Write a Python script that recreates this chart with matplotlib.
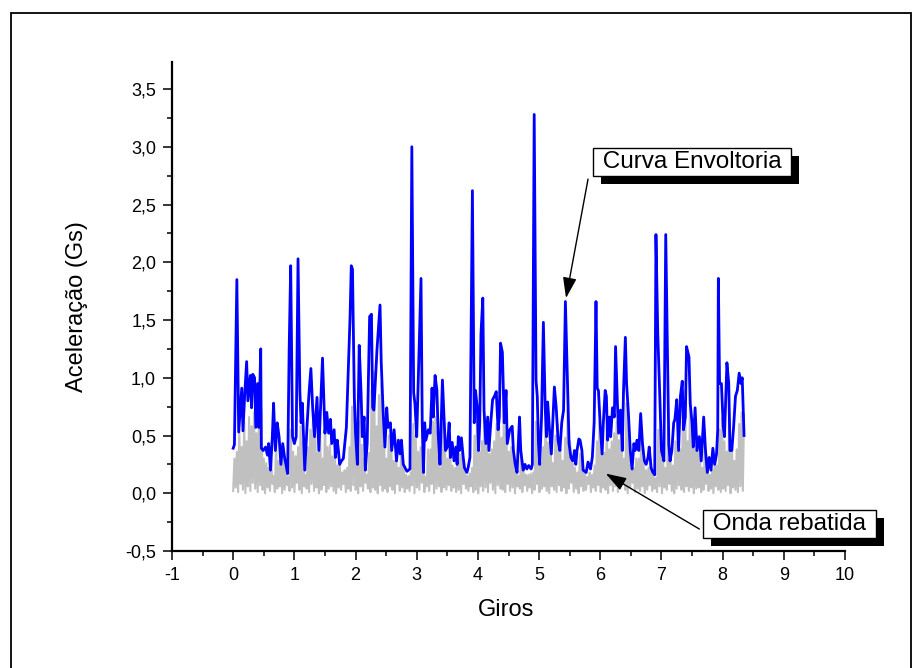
#!/usr/bin/env python3
# -*- coding: utf-8 -*-
"""
    Grafico de aceleracao por giros: onda rebatida (cinza)
    e curva envoltoria (azul), estilo Origin.
"""

import matplotlib
matplotlib.use("Agg")
import matplotlib.pyplot as plt
import matplotlib.patheffects as pe
from matplotlib.patches import Rectangle
from matplotlib.ticker import MultipleLocator, FuncFormatter
import numpy as np

# ---------------- dados ----------------
# Curva envoltoria: vertices (giros, aceleracao em Gs)
giros_env = [
    0.00, 0.02, 0.06, 0.09, 0.14, 0.16, 0.19, 0.22, 0.24, 0.28,
    0.30, 0.32, 0.35, 0.37, 0.40, 0.42, 0.45, 0.46, 0.49, 0.53,
    0.56, 0.58, 0.61, 0.64, 0.66, 0.69, 0.72, 0.75, 0.78, 0.81,
    0.84, 0.89, 0.915, 0.94, 0.97, 1.00, 1.03, 1.06, 1.09, 1.11,
    1.13, 1.17, 1.21, 1.24, 1.27, 1.30, 1.33, 1.37, 1.40, 1.46,
    1.50, 1.53, 1.56, 1.59, 1.61, 1.65, 1.67, 1.70, 1.72, 1.74,
    1.77, 1.80, 1.85, 1.91, 1.93, 1.95, 1.98, 2.00, 2.03, 2.06,
    2.09, 2.11, 2.14, 2.16, 2.19, 2.23, 2.26, 2.28, 2.30, 2.35,
    2.40, 2.42, 2.45, 2.48, 2.51, 2.53, 2.57, 2.59, 2.63, 2.67,
    2.70, 2.73, 2.75, 2.78, 2.84, 2.89, 2.92, 2.95, 2.97, 3.00,
    3.07, 3.09, 3.11, 3.13, 3.15, 3.19, 3.22, 3.25, 3.27, 3.30,
    3.33, 3.35, 3.38, 3.42, 3.44, 3.47, 3.50, 3.53, 3.55, 3.58,
    3.61, 3.64, 3.66, 3.68, 3.70, 3.73, 3.76, 3.78, 3.82, 3.84,
    3.87, 3.91, 3.94, 3.96, 3.99, 4.01, 4.03, 4.05, 4.08, 4.10,
    4.13, 4.16, 4.18, 4.21, 4.24, 4.27, 4.30, 4.33, 4.35, 4.37,
    4.40, 4.43, 4.46, 4.48, 4.52, 4.56, 4.58, 4.61, 4.64, 4.68,
    4.70, 4.74, 4.77, 4.80, 4.83, 4.87, 4.89, 4.92, 4.95, 4.97,
    4.99, 5.01, 5.04, 5.07, 5.10, 5.12, 5.14, 5.17, 5.20, 5.22,
    5.25, 5.28, 5.31, 5.34, 5.37, 5.40, 5.43, 5.45, 5.47, 5.49,
    5.52, 5.55, 5.58, 5.60, 5.62, 5.65, 5.67, 5.70, 5.72, 5.77,
    5.80, 5.84, 5.87, 5.90, 5.93, 5.95, 5.97, 6.00, 6.03, 6.05,
    6.08, 6.10, 6.12, 6.15, 6.17, 6.20, 6.23, 6.25, 6.28, 6.30,
    6.33, 6.36, 6.38, 6.41, 6.43, 6.46, 6.49, 6.52, 6.55, 6.57,
    6.60, 6.63, 6.66, 6.69, 6.72, 6.75, 6.78, 6.80, 6.83, 6.86,
    6.89, 6.91, 6.94, 6.97, 7.00, 7.04, 7.07, 7.10, 7.12, 7.14,
    7.17, 7.20, 7.22, 7.25, 7.28, 7.31, 7.34, 7.36, 7.39, 7.41,
    7.45, 7.47, 7.50, 7.52, 7.55, 7.58, 7.62, 7.65, 7.69, 7.72,
    7.75, 7.78, 7.81, 7.84, 7.87, 7.90, 7.92, 7.93, 7.95, 7.98,
    8.01, 8.03, 8.07, 8.10, 8.12, 8.15, 8.18, 8.21, 8.24, 8.27,
    8.30, 8.32, 8.35,
]
acel_env = [
    0.39, 0.42, 1.85, 0.53, 0.91, 0.54, 0.87, 1.14, 0.80, 1.02,
    0.74, 1.03, 1.00, 0.57, 0.95, 0.57, 1.25, 0.39, 0.37, 0.40,
    0.33, 0.43, 0.20, 0.49, 0.78, 0.37, 0.61, 0.49, 0.25, 0.43,
    0.31, 0.17, 1.25, 1.97, 0.49, 0.43, 0.49, 2.03, 0.88, 0.61,
    0.78, 0.20, 0.61, 0.87, 1.08, 0.73, 0.49, 0.83, 0.37, 1.17,
    0.52, 0.70, 0.52, 0.64, 0.43, 0.55, 0.31, 0.46, 0.37, 0.25,
    0.28, 0.30, 0.57, 1.52, 1.97, 1.94, 0.83, 0.52, 0.25, 1.28,
    0.87, 0.49, 0.66, 0.20, 0.43, 1.53, 1.55, 0.74, 0.72, 1.24,
    1.63, 1.13, 0.72, 0.40, 0.74, 0.57, 0.61, 0.37, 0.55, 0.28,
    0.46, 0.34, 0.46, 0.25, 0.19, 0.21, 3.00, 0.87, 0.78, 0.49,
    1.86, 0.61, 0.18, 0.61, 0.46, 0.55, 0.52, 0.91, 0.66, 1.02,
    0.89, 0.52, 0.25, 0.98, 0.74, 0.37, 0.40, 0.61, 0.31, 0.44,
    0.28, 0.40, 0.25, 0.49, 0.37, 0.48, 0.31, 0.22, 0.18, 0.22,
    0.31, 2.62, 0.61, 0.89, 0.74, 0.37, 0.61, 1.38, 1.69, 0.72,
    0.43, 0.66, 0.37, 0.61, 0.81, 0.84, 0.88, 0.55, 0.66, 1.30,
    1.22, 0.61, 0.89, 0.43, 0.55, 0.58, 0.37, 0.25, 0.18, 0.66,
    0.37, 0.20, 0.25, 0.21, 0.24, 0.21, 0.25, 3.28, 0.98, 0.84,
    0.43, 0.25, 0.66, 1.48, 0.74, 0.49, 0.79, 0.55, 0.34, 0.58,
    0.92, 0.74, 0.46, 0.37, 0.61, 0.72, 1.66, 1.24, 0.81, 0.43,
    0.31, 0.28, 0.37, 0.25, 0.37, 0.47, 0.46, 0.37, 0.20, 0.18,
    0.27, 0.21, 0.31, 0.61, 1.66, 0.91, 0.89, 0.58, 0.34, 0.61,
    0.89, 0.84, 0.46, 0.66, 0.49, 0.74, 0.66, 1.27, 0.78, 0.52,
    0.72, 0.37, 0.89, 1.35, 0.95, 0.69, 0.37, 0.21, 0.43, 0.37,
    0.46, 0.37, 0.69, 0.43, 0.28, 0.25, 0.31, 0.40, 0.22, 0.18,
    0.16, 2.24, 1.38, 0.89, 0.37, 0.28, 2.24, 1.13, 0.43, 0.28,
    0.37, 0.61, 0.64, 0.81, 0.37, 0.84, 0.97, 0.55, 0.66, 1.27,
    1.18, 0.78, 0.61, 0.40, 0.74, 0.37, 0.49, 0.28, 0.66, 0.37,
    0.18, 0.31, 0.20, 0.39, 0.25, 0.34, 0.55, 1.86, 0.95, 0.95,
    0.58, 0.49, 1.13, 0.95, 0.37, 0.37, 0.58, 0.84, 0.89, 1.04,
    0.95, 1.00, 0.50,
]

# Onda rebatida: picos e vales (amostras alternadas)
picos_onda = [
    0.30, 0.36, 0.55, 0.40, 0.62, 0.45, 0.66, 0.58, 0.70, 0.52,
    0.64, 0.72, 0.30, 0.26, 0.22, 0.30, 0.15, 0.45, 0.28, 0.38,
    0.30, 0.22, 0.14, 0.55, 0.36, 0.32, 0.40, 0.58, 0.45, 0.16,
    0.40, 0.55, 0.62, 0.50, 0.35, 0.52, 0.30, 0.66, 0.40, 0.42,
    0.32, 0.36, 0.24, 0.26, 0.18, 0.20, 0.22, 0.40, 0.75, 0.90,
    0.40, 0.62, 0.42, 0.30, 0.16, 0.35, 0.90, 1.05, 0.58, 0.85,
    0.95, 0.60, 0.30, 0.50, 0.42, 0.28, 0.36, 0.22, 0.32, 0.26,
    0.16, 0.15, 0.18, 0.60, 0.50, 0.36, 0.40, 0.45, 0.14, 0.38,
    0.38, 0.62, 0.66, 0.55, 0.22, 0.60, 0.36, 0.30, 0.42, 0.24,
    0.22, 0.30, 0.34, 0.35, 0.22, 0.15, 0.17, 0.22, 0.50, 0.62,
    0.36, 0.45, 0.70, 0.52, 0.34, 0.38, 0.45, 0.60, 0.62, 0.48,
    0.82, 0.52, 0.36, 0.40, 0.36, 0.22, 0.15, 0.40, 0.22, 0.16,
    0.16, 0.17, 0.18, 0.62, 0.55, 0.26, 0.40, 0.62, 0.44, 0.48,
    0.26, 0.50, 0.60, 0.40, 0.28, 0.48, 0.72, 0.45, 0.26, 0.22,
    0.18, 0.34, 0.33, 0.20, 0.14, 0.18, 0.16, 0.24, 0.45, 0.62,
    0.42, 0.35, 0.58, 0.38, 0.45, 0.52, 0.62, 0.46, 0.44, 0.30,
    0.78, 0.58, 0.30, 0.22, 0.30, 0.30, 0.48, 0.26, 0.20, 0.22,
    0.30, 0.16, 0.13, 0.55, 0.60, 0.28, 0.22, 0.58, 0.32, 0.24,
    0.45, 0.52, 0.38, 0.62, 0.68, 0.45, 0.88, 0.62, 0.38, 0.50,
    0.34, 0.22, 0.44, 0.26, 0.16, 0.20, 0.26, 0.24, 0.55, 0.65,
    0.45, 0.36, 0.70, 0.45, 0.28, 0.38, 0.60, 0.70, 0.68,
]
vales_onda = [
    0.02, 0.05, 0.01, 0.08, 0.03, 0.00, 0.06, 0.02, 0.09, 0.04,
    0.01, 0.07, 0.03, 0.00, 0.05, 0.02, 0.08, 0.01, 0.04, 0.06,
    0.00, 0.03, 0.07, 0.02, 0.05, 0.01, 0.09, 0.03, 0.00, 0.06,
    0.04, 0.01, 0.08, 0.02, 0.05, 0.00, 0.03, 0.07, 0.01, 0.04,
    0.06, 0.02, 0.00, 0.05, 0.03, 0.08, 0.01, 0.04, 0.02, 0.07,
    0.03, 0.00, 0.06, 0.02, 0.09, 0.04, 0.01, 0.05, 0.03, 0.00,
    0.07, 0.02, 0.04, 0.01, 0.06, 0.03, 0.00, 0.08, 0.02, 0.05,
    0.01, 0.04, 0.02, 0.07, 0.00, 0.05, 0.03, 0.09, 0.01, 0.06,
    0.02, 0.08, 0.00, 0.04, 0.06, 0.01, 0.05, 0.03, 0.07, 0.02,
    0.05, 0.01, 0.03, 0.00, 0.08, 0.04, 0.02, 0.06, 0.01, 0.03,
    0.00, 0.06, 0.02, 0.05, 0.01, 0.09, 0.03, 0.00, 0.07, 0.04,
    0.03, 0.01, 0.08, 0.02, 0.05, 0.00, 0.06, 0.04, 0.01, 0.07,
    0.02, 0.05, 0.00, 0.03, 0.08, 0.01, 0.04, 0.06, 0.02, 0.00,
    0.06, 0.03, 0.01, 0.07, 0.02, 0.05, 0.00, 0.04, 0.09, 0.01,
    0.04, 0.00, 0.06, 0.02, 0.03, 0.08, 0.01, 0.05, 0.02, 0.07,
    0.01, 0.05, 0.03, 0.00, 0.07, 0.02, 0.06, 0.01, 0.04, 0.08,
    0.03, 0.00, 0.05, 0.09, 0.01, 0.04, 0.02, 0.06, 0.00, 0.03,
    0.07, 0.02, 0.04, 0.01, 0.06, 0.00, 0.05, 0.03, 0.08, 0.02,
    0.00, 0.04, 0.07, 0.03, 0.01, 0.06, 0.02, 0.05, 0.00, 0.04,
    0.05, 0.01, 0.03, 0.08, 0.02, 0.04, 0.00, 0.06, 0.03, 0.01,
    0.04, 0.02, 0.07, 0.00, 0.05, 0.03, 0.01, 0.06, 0.02,
]
giro_final = 8.35

# textos
rotulo_x = "Giros"
rotulo_y = "Aceleração (Gs)"
texto_envoltoria = " Curva Envoltoria "
texto_onda = " Onda rebatida "

# ---------------- grafico ----------------
plt.rcParams["font.family"] = ["Liberation Sans", "DejaVu Sans"]

fig = plt.figure(figsize=(9.14, 6.68), dpi=100)
ax = fig.add_axes([172 / 914, 117 / 668, 673 / 914, 489 / 668])

# moldura externa
fig.patches.append(Rectangle((11 / 914, -0.05), 900 / 914, 1.05 - 13 / 668,
                             transform=fig.transFigure, fill=False,
                             edgecolor="black", linewidth=1.3))

# onda rebatida: alterna vale / pico
onda = np.column_stack((vales_onda, picos_onda)).ravel()
giros_onda = np.linspace(0, giro_final, len(onda))
ax.plot(giros_onda, onda, color="#c0c0c0", linewidth=1.5, zorder=2)

# curva envoltoria
ax.plot(giros_env, acel_env, color="#0000ff", linewidth=2.0, zorder=3)

ax.set_xlim(-1, 10)
ax.set_ylim(-0.5, 3.734)

ax.spines["top"].set_visible(False)
ax.spines["right"].set_visible(False)
ax.spines["left"].set_linewidth(1.6)
ax.spines["bottom"].set_linewidth(1.6)

ax.xaxis.set_major_locator(MultipleLocator(1))
ax.xaxis.set_minor_locator(MultipleLocator(0.5))
ax.yaxis.set_major_locator(MultipleLocator(0.5))
ax.yaxis.set_minor_locator(MultipleLocator(0.25))
ax.xaxis.set_major_formatter(FuncFormatter(lambda v, p: "%d" % round(v)))
ax.yaxis.set_major_formatter(FuncFormatter(lambda v, p: ("%.1f" % v).replace(".", ",")))

ax.tick_params(which="major", direction="out", length=6.5, width=1.1,
               labelsize=13, pad=5)
ax.tick_params(which="minor", direction="out", length=3.8, width=1.1)

ax.set_xlabel(rotulo_x, fontsize=17)
ax.set_ylabel(rotulo_y, fontsize=17)
ax.xaxis.set_label_coords(0.497, -0.098)
ax.yaxis.set_label_coords(-0.125, 0.5)

# caixas de texto com sombra
sombra = [pe.withSimplePatchShadow(offset=(6, -6), shadow_rgbFace="black", alpha=1.0)]
caixa = dict(boxstyle="square,pad=0.12", facecolor="white", edgecolor="black", linewidth=1)

t1 = ax.text(7.50, 2.87, texto_envoltoria, fontsize=17.5, ha="center", va="center",
             bbox=caixa, zorder=6)
t1.get_bbox_patch().set_path_effects(sombra)

t2 = ax.text(9.09, -0.264, texto_onda, fontsize=17.5, ha="center", va="center",
             bbox=caixa, zorder=6, clip_on=False)
t2.get_bbox_patch().set_path_effects(sombra)

# setas
seta = dict(arrowstyle="-|>,head_length=0.9,head_width=0.3", color="black",
            linewidth=1, shrinkA=0, shrinkB=0, mutation_scale=14)
ax.annotate("", xy=(5.44, 1.69), xytext=(5.80, 2.72), arrowprops=seta, zorder=5)
ax.annotate("", xy=(6.09, 0.17), xytext=(7.62, -0.31), arrowprops=seta,
            zorder=5, annotation_clip=False)

plt.savefig("out.png", dpi=100)
